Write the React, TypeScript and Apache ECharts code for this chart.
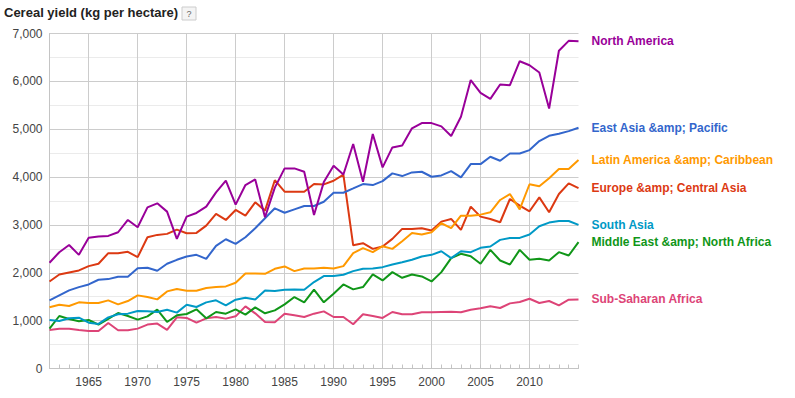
import React, { useEffect, useRef } from "react";
import * as echarts from "echarts";

const years = [
  "1961","1962","1963","1964","1965","1966","1967","1968","1969","1970",
  "1971","1972","1973","1974","1975","1976","1977","1978","1979","1980",
  "1981","1982","1983","1984","1985","1986","1987","1988","1989","1990",
  "1991","1992","1993","1994","1995","1996","1997","1998","1999","2000",
  "2001","2002","2003","2004","2005","2006","2007","2008","2009","2010",
  "2011","2012","2013","2014","2015",
];

const labelledYears = ["1965", "1970", "1975", "1980", "1985", "1990", "1995", "2000", "2005", "2010"];

const northAmerica = [
  2210, 2430, 2580, 2375, 2730, 2757, 2771, 2847, 3104, 2951,
  3368, 3451, 3278, 2708, 3174, 3250, 3382, 3680, 3924, 3424,
  3833, 3950, 3160, 3780, 4181, 4181, 4111, 3207, 3895, 4237,
  4055, 4690, 3903, 4900, 4203, 4620, 4660, 5018, 5128, 5128,
  5060, 4857, 5260, 6026, 5761, 5635, 5935, 5920, 6421, 6337,
  6184, 5433, 6640, 6846, 6839,
];

const eastAsiaPacific = [
  1424, 1528, 1632, 1701, 1757, 1854, 1868, 1917, 1917, 2097,
  2104, 2042, 2188, 2271, 2340, 2375, 2292, 2563, 2701, 2604,
  2743, 2931, 3139, 3347, 3255, 3325, 3395, 3395, 3485, 3673,
  3673, 3763, 3854, 3833, 3916, 4077, 4021, 4097, 4111, 4007,
  4035, 4125, 3993, 4271, 4271, 4424, 4341, 4494, 4494, 4564,
  4752, 4863, 4905, 4960, 5030,
];

const latinAmericaCaribbean = [
  1278, 1333, 1306, 1382, 1368, 1368, 1424, 1340, 1410, 1528,
  1493, 1444, 1611, 1660, 1625, 1625, 1681, 1701, 1715, 1792,
  1986, 1986, 1979, 2083, 2132, 2035, 2090, 2090, 2104, 2090,
  2139, 2410, 2514, 2431, 2556, 2500, 2660, 2833, 2799, 2847,
  3035, 2931, 3194, 3194, 3215, 3264, 3521, 3645, 3325, 3850,
  3810, 3975, 4167, 4167, 4355,
];

const europeCentralAsia = [
  1819, 1965, 2007, 2049, 2139, 2188, 2410, 2410, 2438, 2326,
  2743, 2792, 2813, 2903, 2826, 2833, 2986, 3229, 3104, 3313,
  3194, 3472, 3299, 3935, 3694, 3694, 3694, 3854, 3847, 3923,
  4050, 2575, 2618, 2500, 2549, 2708, 2917, 2917, 2931, 2882,
  3069, 3125, 2896, 3382, 3174, 3125, 3056, 3542, 3403, 3285,
  3576, 3264, 3646, 3868, 3771,
];

const southAsia = [
  1014, 993, 1049, 1062, 958, 931, 1069, 1132, 1146, 1201,
  1194, 1181, 1229, 1167, 1333, 1285, 1382, 1424, 1319, 1438,
  1479, 1444, 1632, 1618, 1646, 1653, 1646, 1806, 1931, 1931,
  1958, 2035, 2083, 2090, 2118, 2174, 2222, 2271, 2340, 2375,
  2451, 2306, 2451, 2431, 2521, 2549, 2688, 2729, 2729, 2799,
  2972, 3049, 3083, 3083, 3000,
];

const middleEastNorthAfrica = [
  833, 1097, 1035, 986, 1014, 917, 1035, 1160, 1097, 1021,
  1090, 1229, 972, 1111, 1139, 1236, 1049, 1181, 1146, 1236,
  1125, 1278, 1153, 1215, 1340, 1493, 1382, 1646, 1382, 1563,
  1757, 1653, 1701, 1965, 1840, 2014, 1896, 1965, 1924, 1819,
  2014, 2306, 2396, 2347, 2188, 2479, 2257, 2174, 2479, 2271,
  2292, 2257, 2431, 2361, 2639,
];

const subSaharanAfrica = [
  806, 833, 833, 806, 785, 785, 951, 799, 799, 833,
  917, 938, 806, 1069, 1056, 958, 1049, 1076, 1042, 1090,
  1299, 1153, 972, 965, 1146, 1111, 1076, 1146, 1194, 1076,
  1076, 924, 1132, 1097, 1056, 1181, 1132, 1132, 1174, 1174,
  1181, 1188, 1174, 1229, 1257, 1299, 1264, 1361, 1389, 1458,
  1368, 1410, 1319, 1438, 1444,
];

const seriesDefs = [
  { name: "Sub-Saharan Africa", data: subSaharanAfrica, color: "#dd4477" },
  { name: "Middle East &amp; North Africa", data: middleEastNorthAfrica, color: "#109618" },
  { name: "South Asia", data: southAsia, color: "#0099c6" },
  { name: "Europe &amp; Central Asia", data: europeCentralAsia, color: "#dc3912" },
  { name: "Latin America &amp; Caribbean", data: latinAmericaCaribbean, color: "#ff9900" },
  { name: "East Asia &amp; Pacific", data: eastAsiaPacific, color: "#3366cc" },
  { name: "North America", data: northAmerica, color: "#990099" },
];

const FONT = "'Liberation Sans', Arial, Helvetica, sans-serif";

export default function App() {
  const ref = useRef<HTMLDivElement>(null);
  useEffect(() => {
    if (!ref.current) return;
    const chart = echarts.init(ref.current, undefined, { renderer: "svg" });
    const fiveYear = (i: number) => labelledYears.indexOf(years[i]) >= 0;
    chart.setOption({
      animation: false,
      backgroundColor: "#ffffff",
      textStyle: { fontFamily: FONT },
      grid: { left: 49.5, top: 33.5, right: 216.5, bottom: 29.5, containLabel: false },
      graphic: [
        {
          type: "text",
          left: 4,
          top: 6,
          style: {
            text: "Cereal yield (kg per hectare)",
            font: `bold 13px ${FONT}`,
            fill: "#222222",
          },
        },
        {
          type: "rect",
          shape: { x: 182, y: 7, width: 14, height: 13 },
          style: { fill: "#f4f4f4", stroke: "#cccccc", lineWidth: 1 },
        },
        {
          type: "text",
          x: 189,
          y: 13.5,
          style: {
            text: "?",
            font: `9px ${FONT}`,
            fill: "#666666",
            align: "center",
            verticalAlign: "middle",
          },
        },
      ],
      xAxis: {
        type: "category",
        data: years,
        boundaryGap: false,
        axisLine: { show: true, lineStyle: { color: "#c4c4c4", width: 1 } },
        axisTick: {
          show: true,
          inside: true,
          length: 4,
          interval: 0,
          lineStyle: { color: "#c4c4c4" },
        },
        axisLabel: {
          interval: fiveYear,
          color: "#444444",
          fontSize: 12,
          margin: 7,
          fontFamily: FONT,
        },
        splitLine: {
          show: true,
          interval: fiveYear,
          lineStyle: { color: "#cccccc", width: 1 },
        },
      },
      yAxis: {
        type: "value",
        min: 0,
        max: 7000,
        interval: 1000,
        axisLine: { show: true, lineStyle: { color: "#c4c4c4", width: 1 } },
        axisTick: { show: false },
        axisLabel: {
          color: "#444444",
          fontSize: 12,
          margin: 7,
          fontFamily: FONT,
          formatter: (v: number) => v.toLocaleString("en-US"),
        },
        splitLine: { show: true, lineStyle: { color: "#cccccc", width: 1 } },
        minorTick: { show: false, splitNumber: 2 },
        minorSplitLine: { show: true, lineStyle: { color: "#ebebeb", width: 1 } },
      },
      series: seriesDefs.map((s) => ({
        name: s.name,
        type: "line",
        data: s.data,
        symbol: "none",
        showSymbol: false,
        lineStyle: { color: s.color, width: 2 },
        itemStyle: { color: s.color },
        emphasis: { disabled: true },
        endLabel: {
          show: true,
          formatter: "{a}",
          color: s.color,
          fontWeight: "bold",
          fontSize: 12,
          fontFamily: FONT,
          distance: 13,
        },
      })),
    });
    return () => chart.dispose();
  }, []);
  return (
    <div
      ref={ref}
      style={{ position: "fixed", left: 0, top: 0, width: 795, height: 398, background: "#fff" }}
    />
  );
}
